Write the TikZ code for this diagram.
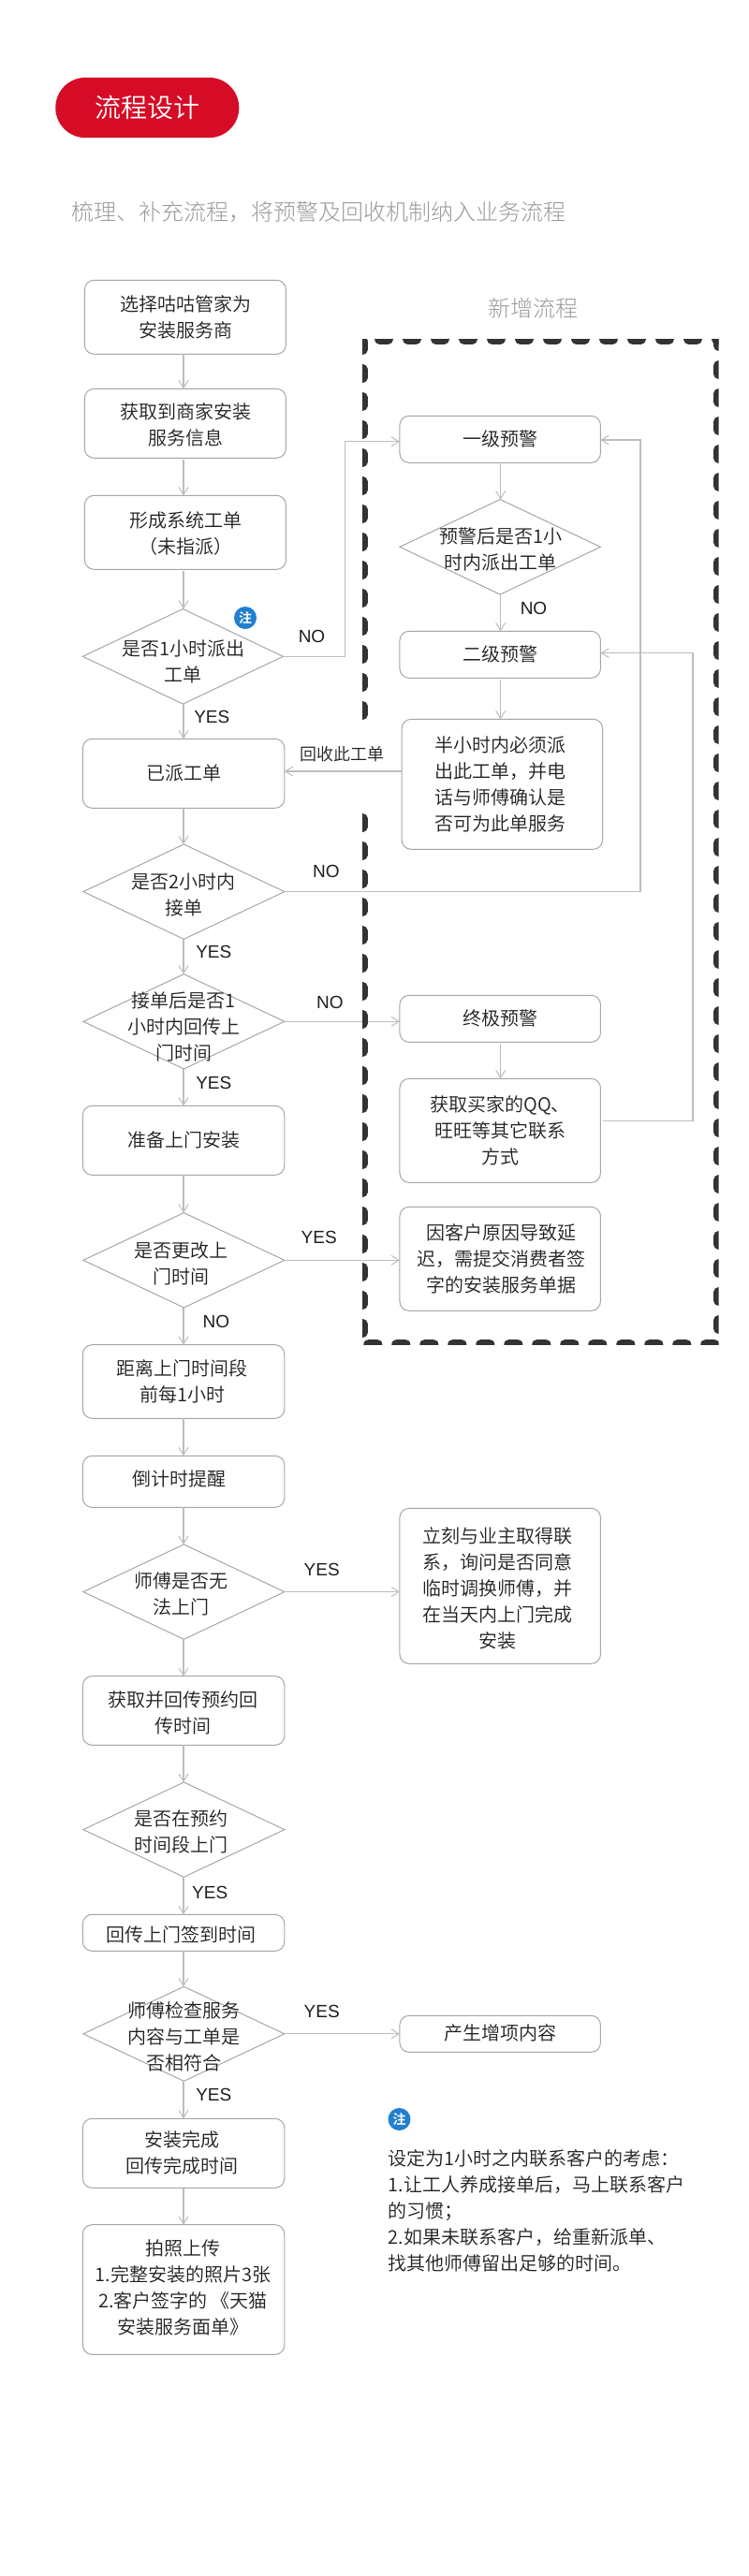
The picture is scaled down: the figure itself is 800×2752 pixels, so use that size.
\documentclass[tikz,border=0pt]{standalone}
\usepackage{fontspec}
\setmainfont{Noto Sans CJK SC DemiLight}
\newfontfamily\cjklight{Noto Sans CJK SC Light}
\newfontfamily\cjkbold{Noto Sans CJK SC Bold}
\newfontfamily\latinlabel{Liberation Sans}
\usetikzlibrary{shapes.geometric,arrows.meta}
\definecolor{ink}{HTML}{1E1E1E}
\definecolor{edgeline}{HTML}{A6A6A6}
\definecolor{conn}{HTML}{BDBDBD}
\definecolor{frameink}{HTML}{333333}
\definecolor{pillred}{HTML}{D60B26}
\definecolor{badgeblue}{HTML}{2080D0}
\definecolor{softgrey}{HTML}{9A9A9A}
\tikzset{
  x=1pt,y=-1pt,
  flowbox/.style={draw=edgeline,line width=1pt,rounded corners=10pt,inner sep=0pt,outer sep=0pt},
  flowdia/.style={draw=edgeline,line width=1pt,diamond,inner sep=0pt,outer sep=0pt},
  flowtext/.style={align=center,inner sep=0pt,outer sep=0pt,text=ink,font=\fontsize{20}{28}\selectfont},
  yn/.style={inner sep=0pt,text=ink,font=\latinlabel\fontsize{19}{24}\selectfont},
  smalllabel/.style={inner sep=0pt,text=ink,font=\fontsize{18}{22}\selectfont},
  greyhead/.style={inner sep=0pt,text=softgrey,font=\cjklight\fontsize{24}{28}\selectfont},
  badge/.style={circle,fill=badgeblue,minimum size=24pt,inner sep=0pt,text=white,font=\cjkbold\fontsize{14}{14}\selectfont},
  link/.style={draw=conn,line width=1.2pt,-{Straight Barb[length=8pt,width=10pt,line width=1pt]}},
  frameside/.style={draw=frameink,line width=11pt,line cap=round},
}
% name, cx, cy, w, h, text x, text y, text
\newcommand{\flowB}[8]{\node[flowbox,minimum width=#4pt,minimum height=#5pt] (#1) at (#2,#3) {};
  \node[flowtext] (#1t) at (#6,#7) {#8};}
\newcommand{\flowD}[8]{\node[flowdia,minimum width=#4pt,minimum height=#5pt] (#1) at (#2,#3) {};
  \node[flowtext] (#1t) at (#6,#7) {#8};}
\begin{document}
\begin{tikzpicture}
\useasboundingbox (0,0) rectangle (800,2752);
\fill[white] (0,0) rectangle (800,2752);
% header
\node[fill=pillred,rounded corners=32pt,minimum width=196pt,minimum height=64.3pt,inner sep=0pt,text=white,font=\fontsize{28}{32}\selectfont] (pill) at (157.3,115) {流程设计};
\node[greyhead] (subtitle) at (340.2,227) {梳理、补充流程，将预警及回收机制纳入业务流程};
\node[greyhead] (newflow) at (569,329.3) {新增流程};
% left column
\flowB{b1}{197.9}{338.8}{215}{79}{198.2}{338.9}{选择咕咕管家为\\安装服务商}
\flowB{b2}{197.9}{452.3}{215}{74}{198.2}{454}{获取到商家安装\\服务信息}
\flowB{b3}{197.9}{568.8}{215}{79}{198.2}{570.5}{形成系统工单\\（未指派）}
\flowD{d1}{195.4}{701.3}{214}{101.5}{195.6}{707}{是否1小时派出\\工单}
\flowB{b4}{196.1}{826.3}{215.5}{74}{196}{825.7}{已派工单}
\flowD{d3}{196.4}{952.6}{215}{101.3}{196}{956}{是否2小时内\\接单}
\flowD{d4}{196.4}{1091.3}{215}{101.3}{196}{1097}{接单后是否1\\小时内回传上\\门时间}
\flowB{b5}{196.1}{1218.3}{215.5}{74}{196}{1217.7}{准备上门安装}
\flowD{d5}{196.4}{1346.3}{215}{101.3}{193}{1349.5}{是否更改上\\门时间}
\flowB{b6}{196.1}{1476}{215.5}{78.6}{194.6}{1476}{距离上门时间段\\前每1小时}
\flowB{b7}{196.1}{1582.8}{215.5}{55}{191}{1580}{倒计时提醒}
\flowD{d6}{196.4}{1700.6}{215}{101.3}{193}{1703.3}{师傅是否无\\法上门}
\flowB{b8}{196.1}{1827.5}{215.5}{73.6}{195.6}{1830}{获取并回传预约回\\传时间}
\flowD{d7}{196.4}{1954.6}{215}{101.3}{193}{1957}{是否在预约\\时间段上门}
\flowB{b9}{196.1}{2064.8}{215.5}{39}{193}{2067.3}{回传上门签到时间}
\flowD{d8}{196.4}{2172.8}{215}{101}{196}{2176.3}{师傅检查服务\\内容与工单是\\否相符合}
\flowB{b10}{196.1}{2300.3}{215.5}{74}{194.6}{2300}{安装完成\\回传完成时间}
\flowB{b11}{196.1}{2446}{215.5}{138.6}{195.6}{2444}{拍照上传\\1.完整安装的照片3张\\2.客户签字的 《天猫\\安装服务面单》}
% right column
\flowB{a1}{534.2}{469.3}{214.5}{50}{534.2}{469}{一级预警}
\flowD{a2}{534.2}{584.3}{214.5}{101.5}{534.7}{587.3}{预警后是否1小\\时内派出工单}
\flowB{a3}{534.2}{699.3}{214.5}{50}{534.2}{698.7}{二级预警}
\flowB{a4}{536.3}{837.8}{214.5}{139}{534.2}{838}{半小时内必须派\\出此工单，并电\\话与师傅确认是\\否可为此单服务}
\flowB{a5}{534.2}{1088.3}{214.5}{50}{534.2}{1087.7}{终极预警}
\flowB{a6}{534.2}{1207.8}{214.5}{111}{534.2}{1208}{获取买家的QQ、\\旺旺等其它联系\\方式}
\flowB{a7}{534.2}{1344.8}{214.5}{111}{535.2}{1345.3}{因客户原因导致延\\迟，需提交消费者签\\字的安装服务单据}
\flowB{a8}{534.2}{1694.3}{214.5}{166}{531.2}{1696.7}{立刻与业主取得联\\系，询问是否同意\\临时调换师傅，并\\在当天内上门完成\\安装}
\flowB{a9}{534.2}{2172.8}{214.5}{39}{534.2}{2172}{产生增项内容}
% alignment and bend points
\coordinate (L) at (196,0);
\coordinate (R) at (534.7,0);
\coordinate (e1) at (368.7,471.7);
\coordinate (e2) at (683.9,470);
\coordinate (e3) at (740,697.7);
\coordinate (e4) at (740,1197.7);
% straight connectors, left column
\draw[link] (b1.south -| L) -- (b2.north -| L);
\draw[link,shorten <=2pt] (b2.south -| L) -- (b3.north -| L);
\draw[link,shorten <=2pt] (b3.south -| L) -- (d1.north -| L);
\draw[link] (d1.south -| L) -- (b4.north -| L);
\draw[link] (b4.south -| L) -- (d3.north -| L);
\draw[link] (d3.south -| L) -- (d4.north -| L);
\draw[link] (d4.south -| L) -- (b5.north -| L);
\draw[link] (b5.south -| L) -- (d5.north -| L);
\draw[link] (d5.south -| L) -- (b6.north -| L);
\draw[link] (b6.south -| L) -- (b7.north -| L);
\draw[link] (b7.south -| L) -- (d6.north -| L);
\draw[link] (d6.south -| L) -- (b8.north -| L);
\draw[link] (b8.south -| L) -- (d7.north -| L);
\draw[link] (d7.south -| L) -- (b9.north -| L);
\draw[link] (b9.south -| L) -- (d8.north -| L);
\draw[link] (d8.south -| L) -- (b10.north -| L);
\draw[link,shorten <=1pt] (b10.south -| L) -- (b11.north -| L);
% right column
\draw[link] (a1.south -| R) -- (a2.north -| R);
\draw[link] (a2.south -| R) -- (a3.north -| R);
\draw[link,shorten <=2pt] (a3.south -| R) -- (a4.north -| R);
\draw[link,shorten <=2pt] (a5.south -| R) -- (a6.north -| R);
% branches
\draw[link] (d1.east) -| (e1) -- (a1.west |- e1);
\draw[link] (d3.east) -| (e2) -- (a1.east |- e2);
\draw[link,shorten <=3pt] (a6.east |- e4) -- (e4) -- (e3) -- (a3.east |- e3);
\draw[link] (d4.east) -- (a5.west |- d4.east);
\draw[link] (d5.east) -- (a7.west |- d5.east);
\draw[link] (d6.east) -- (a8.west |- d6.east);
\draw[link] (d8.east) -- (a9.west |- d8.east);
% dashed frame, clipped to half its stroke
\begin{scope}
\clip (387,362.3) rectangle (767.7,1436);
\draw[frameside,dash pattern=on 9pt off 21pt,dash phase=11.5pt] (387,362.3) -- (767.7,362.3);
\draw[frameside,dash pattern=on 9pt off 21pt,dash phase=23.2pt] (387,1436) -- (767.7,1436);
\draw[frameside,dash pattern=on 9pt off 21pt,dash phase=27.8pt] (387,362.3) -- (387,1436);
\draw[frameside,dash pattern=on 9pt off 21pt,dash phase=1.8pt] (767.7,362.3) -- (767.7,1436);
\end{scope}
\fill[white] (380,769) rectangle (396,866.7);
% recycle arrow
\draw[link] (a4.west |- 0,824) -- (b4.east |- 0,824);
\node[smalllabel] (recycle) at (365.8,806) {回收此工单};
% branch labels
\node[yn] (no1) at (333,680) {NO};
\node[yn] (yes1) at (226.3,766) {YES};
\node[yn] (no2) at (570,650) {NO};
\node[yn] (no3) at (348.3,931) {NO};
\node[yn] (yes3) at (228.3,1016.7) {YES};
\node[yn] (no4) at (352.4,1071) {NO};
\node[yn] (yes4) at (228.3,1157.3) {YES};
\node[yn] (yes5) at (340.7,1321.7) {YES};
\node[yn] (no5) at (230.8,1412) {NO};
\node[yn] (yes6) at (343.7,1677) {YES};
\node[yn] (yes7) at (224.2,2022) {YES};
\node[yn] (yes8) at (343.7,2149) {YES};
\node[yn] (yes9) at (228.3,2238) {YES};
% notes
\node[badge] (note1) at (262,660) {注};
\node[badge] (note2) at (426.5,2264) {注};
\node[flowtext,align=left,anchor=west] (notetext) at (414.7,2362) {设定为1小时之内联系客户的考虑：\\1.让工人养成接单后，马上联系客户\\的习惯；\\2.如果未联系客户，给重新派单、\\找其他师傅留出足够的时间。};
\end{tikzpicture}
\end{document}
